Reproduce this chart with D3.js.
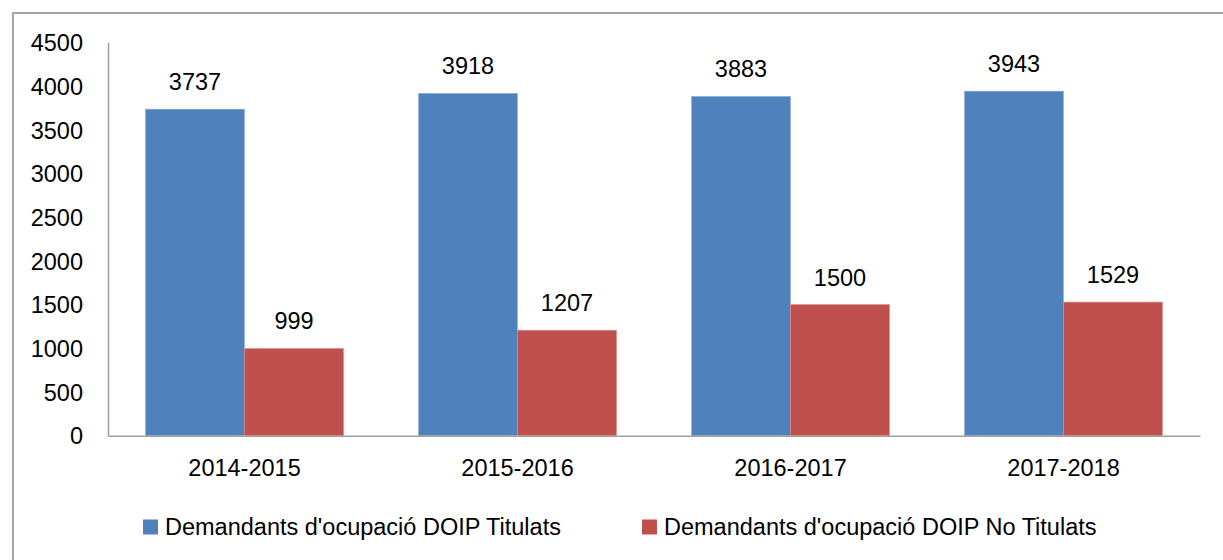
<!DOCTYPE html>
<html>
<head>
<meta charset="utf-8">
<script src="https://cdn.jsdelivr.net/npm/d3@7"></script>
<style>
  html, body { margin: 0; padding: 0; background: #fff; }
  svg { display: block; }
  text { font-family: "Liberation Sans", Arial, sans-serif; fill: #000; }
</style>
</head>
<body>
<svg id="chart" width="1223" height="560"></svg>
<script>
const categories = ["2014-2015", "2015-2016", "2016-2017", "2017-2018"];
const seriesNames = ["Demandants d'ocupació DOIP Titulats", "Demandants d'ocupació DOIP No Titulats"];
const titulats = [3737, 3918, 3883, 3943];
const noTitulats = [999, 1207, 1500, 1529];
const yTicks = [0, 500, 1000, 1500, 2000, 2500, 3000, 3500, 4000, 4500];
const colors = ["#4F81BD", "#C0504D"];

const svg = d3.select("#chart");
const W = 1223, H = 560;

// outer chart border
svg.append("rect")
  .attr("x", 13).attr("y", 13)
  .attr("width", W + 20).attr("height", H + 20)
  .attr("fill", "#fff").attr("stroke", "#a5a5a5").attr("stroke-width", 2);

const plotLeft = 108, plotRight = 1200, plotTop = 42.5, plotBottom = 435.7;

const y = d3.scaleLinear().domain([0, 4500]).range([plotBottom, plotTop]);
const x = d3.scaleBand().domain(categories).range([plotLeft, plotRight]).padding(0);
const xs = d3.scaleBand().domain([0, 1]).range([0, x.bandwidth()]).paddingInner(0).paddingOuter(0.379);

const data = categories.map((c, i) => ({ cat: c, vals: [titulats[i], noTitulats[i]] }));

// bars
const groups = svg.append("g").selectAll("g").data(data).join("g")
  .attr("transform", d => `translate(${x(d.cat)},0)`);

groups.selectAll("rect").data(d => d.vals).join("rect")
  .attr("x", (v, j) => xs(j))
  .attr("y", v => y(v))
  .attr("width", xs.bandwidth())
  .attr("height", v => y(0) - y(v))
  .attr("fill", (v, j) => colors[j])
  .attr("stroke", (v, j) => j === 0 ? "#8fb0d8" : "#e08a88")
  .attr("stroke-width", 0.6);

groups.selectAll("text.val").data(d => d.vals).join("text")
  .attr("class", "val")
  .attr("x", (v, j) => xs(j) + xs.bandwidth() / 2)
  .attr("y", v => y(v) - 27)
  .attr("text-anchor", "middle")
  .attr("dominant-baseline", "central")
  .style("font-size", "23.5px")
  .text(v => v);

// y axis
const yAxis = d3.axisLeft(y).tickValues(yTicks).tickFormat(d3.format("d")).tickSize(0).tickPadding(25);
const gy = svg.append("g").attr("transform", `translate(${plotLeft},0)`).call(yAxis);
gy.select(".domain").attr("stroke", "#a0a0a0").attr("stroke-width", 1.5);
gy.selectAll("text").style("font-size", "23.5px").attr("dy", "0.35em")
  .style("font-family", "'Liberation Sans', Arial, sans-serif");

// x axis
const xAxis = d3.axisBottom(x).tickSize(0).tickPadding(24);
const gx = svg.append("g").attr("transform", `translate(0,${plotBottom})`).call(xAxis);
gx.select(".domain").attr("stroke", "#a0a0a0").attr("stroke-width", 1.5);
gx.selectAll("text").style("font-size", "23.5px")
  .style("font-family", "'Liberation Sans', Arial, sans-serif");

// legend
const legendX = [143, 642];
const legend = svg.append("g").selectAll("g").data(seriesNames).join("g")
  .attr("transform", (d, i) => `translate(${legendX[i]},527)`);
legend.append("rect")
  .attr("x", 0).attr("y", -7.5).attr("width", 15).attr("height", 15)
  .attr("fill", (d, i) => colors[i]);
legend.append("text")
  .attr("x", 22).attr("y", 0)
  .attr("dominant-baseline", "central")
  .style("font-size", "23.5px")
  .text(d => d);
</script>
</body>
</html>
